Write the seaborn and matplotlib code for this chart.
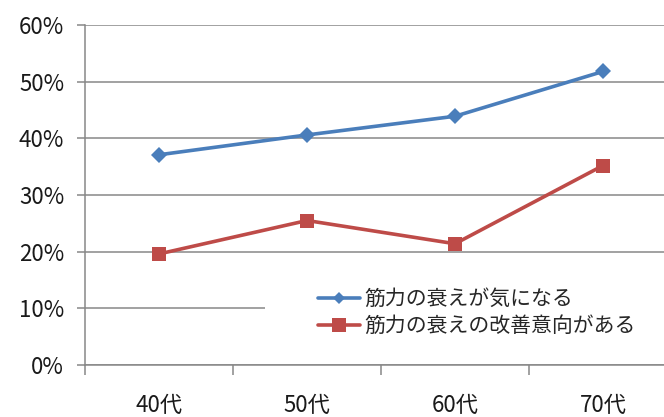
import matplotlib
matplotlib.use('Agg')
import matplotlib.pyplot as plt
import pandas as pd
import seaborn as sns
from matplotlib.patches import Rectangle
from matplotlib.ticker import FixedLocator

# 年代別: 筋力の衰え (%)
ages = ['40代', '50代', '60代', '70代']
worried = [37.1, 40.6, 43.9, 51.8]
improve = [19.6, 25.5, 21.4, 35.2]
series = ['筋力の衰えが気になる', '筋力の衰えの改善意向がある']
colors = ['#4A7EBB', '#BE4B48']
yticks = [0, 10, 20, 30, 40, 50, 60]

df = pd.DataFrame({
    'age': ages * 2,
    'value': worried + improve,
    'series': [series[0]] * len(ages) + [series[1]] * len(ages),
})

sns.set_style('white')
plt.rcParams['font.family'] = ['Noto Sans CJK JP', 'DejaVu Sans']

grey = '#878787'
fig = plt.figure(figsize=(6.64, 4.17), dpi=100)
ax = fig.add_axes([0.128, 0.1247, 0.8916, 0.8153])

sns.lineplot(data=df, x='age', y='value', hue='series', style='series',
             markers={series[0]: 'D', series[1]: 's'}, dashes=False,
             palette=dict(zip(series, colors)), lw=2.6,
             markeredgewidth=0, ax=ax, legend=False)
ax.lines[0].set_markersize(8.5)
ax.lines[1].set_markersize(10.5)

ax.set_xlim(-0.5, len(ages) - 0.5)
ax.set_ylim(0, 60)
ax.set_yticks(yticks)
ax.set_yticklabels([f'{v}%' for v in yticks])
ax.set_xlabel('')
ax.set_ylabel('')

ax.set_axisbelow(True)
ax.yaxis.grid(True, color=grey, lw=1.1)
ax.xaxis.grid(False)
for s in ['top', 'right']:
    ax.spines[s].set_visible(False)
for s in ['left', 'bottom']:
    ax.spines[s].set_color(grey)
    ax.spines[s].set_linewidth(1.1)

ax.tick_params(axis='y', direction='out', length=6, width=1.1, color=grey,
               pad=9, labelsize=16, labelcolor='#1a1a1a', left=True)
ax.tick_params(axis='x', which='major', length=0, pad=21, labelsize=16,
               labelcolor='#1a1a1a')
ax.xaxis.set_minor_locator(FixedLocator([i - 0.5 for i in range(len(ages) + 1)]))
ax.tick_params(axis='x', which='minor', direction='out', length=7, width=1.1,
               color=grey, bottom=True)

# Excel風の凡例エリア (白背景でグリッドを隠す)
ax.add_patch(Rectangle((0.304, 0.044), 0.75, 0.23, transform=ax.transAxes,
                       facecolor='white', edgecolor='none', zorder=1.5))

handles = [plt.Line2D([], [], color=colors[0], lw=2.6, marker='D', ms=6.5, mew=0),
           plt.Line2D([], [], color=colors[1], lw=2.6, marker='s', ms=9.5, mew=0)]
fig.legend(handles, series, loc='center left', bbox_to_anchor=(0.479, 0.2506),
           frameon=False, fontsize=15, handlelength=2.0, handletextpad=0.2,
           labelspacing=0.25, borderpad=0, borderaxespad=0)

fig.savefig('out.png', dpi=100)
